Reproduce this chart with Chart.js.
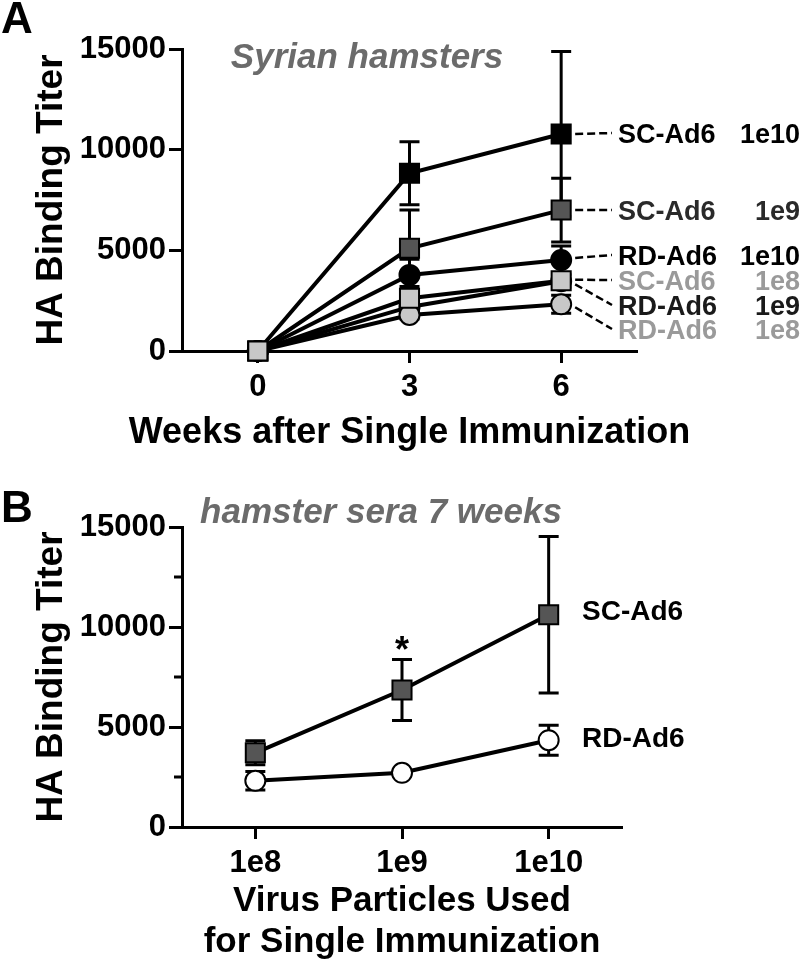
<!DOCTYPE html>
<html>
<head>
<meta charset="utf-8">
<script src="https://cdn.jsdelivr.net/npm/chart.js"></script>
<style>
    html, body { margin: 0; padding: 0; background: #fff; }
    #wrap { position: relative; width: 800px; height: 967px; overflow: hidden; }
    canvas { position: absolute; left: 0; }
    #chartA { top: 0; }
    #chartB { top: 460px; }
</style>
</head>
<body>
<div id="wrap">
    <canvas id="chartA" width="800" height="460"></canvas>
    <canvas id="chartB" width="800" height="507"></canvas>
</div>
<script>
//================================================================================
// Data
//================================================================================

//panel A: weeks after single immunization
var weeks = [0, 3, 6];

var sc1e10    = [0, 8830, 10780];
var sc1e10Err = [0, 1560, 4090];
var sc1e9     = [0, 5100, 7000];
var sc1e9Err  = [0, 1900, 1580];
var rd1e10    = [0, 3780, 4520];
var rd1e10Err = [0, 780, 700];
var sc1e8     = [0, 2620, 3490];
var sc1e8Err  = [0, 250, 300];
var rd1e9     = [0, 2190, 3460];
var rd1e9Err  = [0, 250, 300];
var rd1e8     = [0, 1790, 2320];
var rd1e8Err  = [0, 200, 450];

var seriesNames = ['SC-Ad6', 'SC-Ad6', 'RD-Ad6', 'SC-Ad6', 'RD-Ad6', 'RD-Ad6'];
var seriesDoses = ['1e10', '1e9', '1e10', '1e8', '1e9', '1e8'];

//panel B: hamster sera 7 weeks
var doses    = ['1e8', '1e9', '1e10'];
var doseIdx  = [0, 1, 2];
var scAd6    = [3710, 6850, 10610];
var scAd6Err = [600, 1520, 3910];
var rdAd6    = [2310, 2710, 4340];
var rdAd6Err = [460, 150, 750];

var yTicksMajor = [0, 5000, 10000, 15000];
var yTicksMinor = [2500, 7500, 12500];

//================================================================================
// Helpers
//================================================================================

var family = "'Liberation Sans', Arial, Helvetica, sans-serif";
Chart.defaults.font.family = family;
Chart.defaults.color = '#000';

function pts (xs, ys) {
    return xs.map(function (x, i) { return {x: x, y: ys[i]}; });
}

function series (label, xs, ys, errs, style, fill, order) {
    return {
        label: label,
        data: pts(xs, ys),
        errors: errs,
        borderColor: '#000',
        borderWidth: 4,
        pointStyle: style,
        pointRadius: style === 'rect' ? 13.5 : 10,
        pointBackgroundColor: fill,
        pointBorderColor: '#000',
        pointBorderWidth: 2,
        order: order,
        clip: false,
        fill: false,
        tension: 0
    };
}

function axisX (min, max, tickVals, labelFn, height) {
    return {
        type: 'linear', min: min, max: max,
        afterBuildTicks: function (s) {
            s.ticks = tickVals.map(function (v) { return {value: v}; });
        },
        afterFit: function (s) { s.height = height; },
        grid: { drawOnChartArea: false, tickLength: 12, tickWidth: 3, tickColor: '#000' },
        border: { display: true, color: '#000', width: 3 },
        ticks: { color: '#000', font: { size: 31, weight: 'bold' }, padding: 6, maxRotation: 0,
                 callback: labelFn },
        title: { display: false }
    };
}

function axisY () {
    return {
        min: 0, max: 15000,
        afterBuildTicks: function (s) {
            s.ticks = yTicksMajor.map(function (v) { return {value: v}; });
        },
        afterFit: function (s) { s.width = 182; },
        grid: { drawOnChartArea: false, tickLength: 13, tickWidth: 3, tickColor: '#000' },
        border: { display: true, color: '#000', width: 3 },
        ticks: { color: '#000', font: { size: 31, weight: 'bold' }, padding: 3,
                 callback: function (v) { return String(v); } },
        title: { display: true, text: 'HA Binding Titer', color: '#000',
                 font: { size: 37, weight: 'bold' }, padding: { top: 30, bottom: 0 } }
    };
}

//x axis title drawn by hand so the canvas does not squeeze it to the axis width
function drawXTitle (chart, lines, size, firstY, lineGap) {
    var ctx = chart.ctx, area = chart.chartArea;
    ctx.save();
    ctx.fillStyle = '#000';
    ctx.font = 'bold ' + size + 'px ' + family;
    ctx.textAlign = 'center';
    ctx.textBaseline = 'middle';
    lines.forEach(function (t, i) {
        ctx.fillText(t, (area.left + area.right) / 2, firstY + i * lineGap);
    });
    ctx.restore();
}

//error bars go under the lines and markers
var errorBars = {
    id: 'errorBars',
    beforeDatasetsDraw: function (chart) {
        var ctx = chart.ctx, xs = chart.scales.x, ys = chart.scales.y;
        ctx.save();
        ctx.strokeStyle = '#000';
        ctx.lineWidth = 3;
        chart.data.datasets.forEach(function (ds) {
            ds.data.forEach(function (p, i) {
                var e = ds.errors[i];
                if (!e) return;
                var x = xs.getPixelForValue(p.x);
                var top = ys.getPixelForValue(p.y + e);
                var bot = ys.getPixelForValue(p.y - e);
                ctx.beginPath();
                ctx.moveTo(x, top); ctx.lineTo(x, bot);
                ctx.moveTo(x - 10, top); ctx.lineTo(x + 10, top);
                ctx.moveTo(x - 10, bot); ctx.lineTo(x + 10, bot);
                ctx.stroke();
            });
        });
        ctx.restore();
    }
};

//================================================================================
// Panel A
//================================================================================

var labelsA = {
    id: 'labelsA',
    afterDraw: function (chart) {
        var ctx = chart.ctx, xs = chart.scales.x, ys = chart.scales.y;
        var baseY = [143, 220, 265, 290, 315, 339];
        var colors = ['#000', '#2a2a2a', '#000', '#9a9a9a', '#1a1a1a', '#9a9a9a'];

        drawXTitle(chart, ['Weeks after Single Immunization'], 36, 433, 0);

        ctx.save();
        ctx.fillStyle = '#000';
        ctx.font = 'bold 44px ' + family;
        ctx.fillText('A', 1, 33);

        ctx.fillStyle = '#6b6b6b';
        ctx.font = 'italic bold 35px ' + family;
        ctx.textAlign = 'center';
        ctx.fillText('Syrian hamsters', 367, 68);

        //dashed leaders from the week 6 markers to the labels
        var x6 = xs.getPixelForValue(weeks[2]) + 14;
        var last = [sc1e10, sc1e9, rd1e10, sc1e8, rd1e9, rd1e8];
        var dy = [0, 0, -2, -1, 3, 3];
        ctx.strokeStyle = '#000';
        ctx.lineWidth = 2.5;
        ctx.setLineDash([8, 4]);
        last.forEach(function (vals, i) {
            ctx.beginPath();
            ctx.moveTo(x6, ys.getPixelForValue(vals[2]) + dy[i]);
            ctx.lineTo(612, baseY[i] - 10);
            ctx.stroke();
        });
        ctx.setLineDash([]);

        ctx.font = 'bold 27px ' + family;
        seriesNames.forEach(function (name, i) {
            ctx.fillStyle = colors[i];
            ctx.textAlign = 'left';
            ctx.fillText(name, 618, baseY[i]);
            ctx.textAlign = 'right';
            ctx.fillText(seriesDoses[i], 800, baseY[i]);
        });
        ctx.restore();
    }
};

new Chart(document.getElementById('chartA'), {
    type: 'line',
    data: {
        datasets: [
            series('SC-Ad6 1e10', weeks, sc1e10, sc1e10Err, 'rect', '#000', 5),
            series('SC-Ad6 1e9', weeks, sc1e9, sc1e9Err, 'rect', '#555', 4),
            series('RD-Ad6 1e10', weeks, rd1e10, rd1e10Err, 'circle', '#000', 3),
            series('SC-Ad6 1e8', weeks, sc1e8, sc1e8Err, 'rect', '#c8c8c8', 0),
            series('RD-Ad6 1e9', weeks, rd1e9, rd1e9Err, 'circle', '#fff', 2),
            series('RD-Ad6 1e8', weeks, rd1e8, rd1e8Err, 'circle', '#c8c8c8', 1)
        ]
    },
    options: {
        responsive: false,
        animation: false,
        layout: { padding: { top: 49, right: 163, bottom: 0, left: 0 } },
        plugins: { legend: { display: false }, tooltip: { enabled: false } },
        scales: {
            x: axisX(-1.5, 7.5, weeks, function (v) { return String(v); }, 109),
            y: axisY()
        }
    },
    plugins: [errorBars, labelsA]
});

//================================================================================
// Panel B
//================================================================================

var labelsB = {
    id: 'labelsB',
    afterDraw: function (chart) {
        var ctx = chart.ctx, xs = chart.scales.x, ys = chart.scales.y;
        var area = chart.chartArea;

        drawXTitle(chart, ['Virus Particles Used', 'for Single Immunization'], 35, 441, 41);

        ctx.save();
        //minor ticks on the y axis
        ctx.strokeStyle = '#000';
        ctx.lineWidth = 3;
        yTicksMinor.forEach(function (v) {
            var y = ys.getPixelForValue(v);
            ctx.beginPath();
            ctx.moveTo(area.left - 8, y);
            ctx.lineTo(area.left, y);
            ctx.stroke();
        });

        ctx.fillStyle = '#000';
        ctx.font = 'bold 44px ' + family;
        ctx.fillText('B', 1, 62);

        ctx.fillStyle = '#6b6b6b';
        ctx.font = 'italic bold 35px ' + family;
        ctx.textAlign = 'center';
        ctx.fillText('hamster sera 7 weeks', 381, 63);

        //significance mark above 1e9
        ctx.fillStyle = '#000';
        ctx.font = 'bold 36px ' + family;
        ctx.fillText('*', xs.getPixelForValue(doseIdx[1]), ys.getPixelForValue(scAd6[1] + scAd6Err[1]) + 2);

        ctx.textAlign = 'left';
        ctx.font = 'bold 28px ' + family;
        ctx.fillText('SC-Ad6', 582, 160);
        ctx.fillText('RD-Ad6', 582, 287);
        ctx.restore();
    }
};

new Chart(document.getElementById('chartB'), {
    type: 'line',
    data: {
        datasets: [
            series('SC-Ad6', doseIdx, scAd6, scAd6Err, 'rect', '#555', 0),
            series('RD-Ad6', doseIdx, rdAd6, rdAd6Err, 'circle', '#fff', 1)
        ]
    },
    options: {
        responsive: false,
        animation: false,
        layout: { padding: { top: 67, right: 178, bottom: 0, left: 0 } },
        plugins: { legend: { display: false }, tooltip: { enabled: false } },
        scales: {
            x: axisX(-0.5, 2.5, doseIdx, function (v) { return doses[v]; }, 140),
            y: axisY()
        }
    },
    plugins: [errorBars, labelsB]
});
</script>
</body>
</html>
